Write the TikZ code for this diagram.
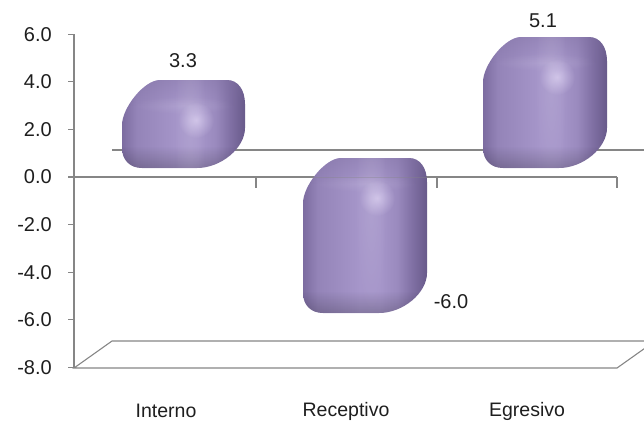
\documentclass[tikz,border=0pt]{standalone}
\usepackage{fontspec}
\setmainfont{Liberation Sans}
\usetikzlibrary{fadings}
\definecolor{axisgray}{RGB}{134,134,134}
\definecolor{txt}{RGB}{30,30,30}
\definecolor{bA}{RGB}{124,108,160}
\definecolor{bB}{RGB}{148,132,184}
\definecolor{bC}{RGB}{166,150,202}
\definecolor{bD}{RGB}{154,138,190}
\definecolor{bE}{RGB}{128,112,164}
\definecolor{bF}{RGB}{104,90,138}
\definecolor{topc}{RGB}{122,107,156}
\definecolor{hil}{RGB}{238,228,255}
\pgfdeclarehorizontalshading{barshade}{100bp}{color(0bp)=(bA); color(25bp)=(bA); color(31bp)=(bB); color(48bp)=(bC); color(56bp)=(bC); color(63bp)=(bD); color(69bp)=(bE); color(75bp)=(bF); color(100bp)=(bF)}
\tikzfading[name=glow, inner color=transparent!0, outer color=transparent!100]
\tikzfading[name=botdark, top color=transparent!100, bottom color=transparent!0]
\tikzfading[name=topdark, top color=transparent!0, bottom color=transparent!100]
\tikzset{
  axisline/.style={draw=axisgray, line width=1.3pt},
  ylab/.style={anchor=east, text=txt, font=\fontsize{20}{22}\selectfont, inner sep=0pt},
  catlab/.style={text=txt, font=\fontsize{19.5}{22}\selectfont, inner sep=0pt},
  vallab/.style={text=txt, font=\fontsize{20}{22}\selectfont, inner sep=0pt},
}
\newcommand\barsil[4]{(#1,#4-20) -- (#1,#2+45) .. controls (#1,#2+28) and (#1+22,#2) .. (#1+38,#2) -- (#3-18,#2) .. controls (#3-7,#2) and (#3,#2+10) .. (#3,#2+24) -- (#3,#4-40) .. controls (#3,#4-20) and (#3-24,#4) .. (#3-48,#4) -- (#1+20,#4) .. controls (#1+8,#4) and (#1,#4-8) .. (#1,#4-20) -- cycle}
\newcommand\softbar[4]{%
  \begin{scope}
    \clip \barsil{#1}{#2}{#3}{#4};
    \shade[shading=barshade] (#1,#2) rectangle (#3,#4);
    % darker top face
    \fill[topc, fill opacity=0.35, path fading=topdark] (#1,#2) rectangle (#3,#2+26);
    % light edge at the front face top
    \fill[white, fill opacity=0.10, path fading=glow] (#1+10,#2+16) rectangle (#3-10,#2+34);
    % bottom dark band
    \fill[black, fill opacity=0.20, path fading=botdark] (#1,#4-22) rectangle (#3,#4);
    % highlight
    \fill[hil, fill opacity=0.55, path fading=glow] (#1+74,#2+40) circle (18);
    \fill[white, fill opacity=0.10, path fading=glow] (#1+68,#2+40) ellipse (16 and 120);
  \end{scope}}
\begin{document}
\begin{tikzpicture}[x=1pt,y=-1pt]
\useasboundingbox (0,0) rectangle (644,421);
\begin{scope}
\clip (0,0) rectangle (644,421);
% floor
\coordinate (f1) at (74,368);
\coordinate (f2) at (617,368);
\coordinate (f3) at (655,341);
\coordinate (f4) at (112,341);
\draw[axisgray, line width=1.1pt] (f1) -- (f2) -- (f3) -- (f4) -- cycle;
% back zero line
\coordinate (bz1) at (112,150);
\coordinate (bz2) at (660,150);
\draw[axisgray, line width=1.1pt] (bz1) -- (bz2);
\end{scope}
% y axis
\coordinate (ya) at (74,34);
\coordinate (yb) at (74,368);
\draw[axisline] (ya) -- (yb);
% zero line and ticks
\coordinate (z0) at (68,177);
\coordinate (z1) at (617,177);
\draw[axisline] (z0) -- (z1);
\foreach \x in {256,437,617} {
  \coordinate (tk\x a) at (\x,177);
  \coordinate (tk\x b) at (\x,188);
  \draw[axisgray, line width=1.1pt] (tk\x a) -- (tk\x b);
}
% y ticks and labels
\foreach \v/\t in {6/6.0,4/4.0,2/2.0,0/0.0,-2/-2.0,-4/-4.0,-6/-6.0,-8/-8.0} {
  \pgfmathsetmacro\yy{177-\v*23.8}
  \coordinate (yt\v a) at (68,\yy);
  \coordinate (yt\v b) at (74,\yy);
  \draw[axisgray, line width=1.1pt] (yt\v a) -- (yt\v b);
  \node[ylab] (yl\v) at (52,\yy) {\t};
}
% bars
\softbar{122}{80}{245}{168}
\softbar{303}{158}{427}{313}
\softbar{483}{37}{607}{168}
% faint zero line across the receptivo bar
\coordinate (fz1) at (303,177);
\coordinate (fz2) at (427,177);
\draw[axisgray, line width=1pt, opacity=0.35] (fz1) -- (fz2);
% value labels
\node[vallab] (v1) at (183,61) {3.3};
\node[vallab] (v2) at (451,302) {-6.0};
\node[vallab] (v3) at (543,21) {5.1};
% category labels
\node[catlab] (c1) at (166,411) {Interno};
\node[catlab] (c2) at (346,411) {Receptivo};
\node[catlab] (c3) at (527,411) {Egresivo};
\end{tikzpicture}
\end{document}
